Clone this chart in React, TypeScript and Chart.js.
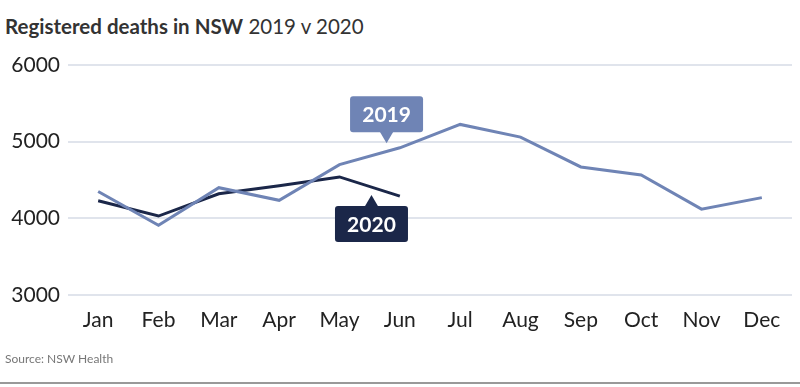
import React, { useEffect, useRef } from "react";
import { Chart, registerables } from "chart.js";

Chart.register(...registerables);

const months = ["Jan", "Feb", "Mar", "Apr", "May", "Jun", "Jul", "Aug", "Sep", "Oct", "Nov", "Dec"];
const deaths2019 = [4350, 3910, 4400, 4235, 4700, 4920, 5225, 5060, 4670, 4565, 4120, 4270];
const deaths2020 = [4230, 4030, 4320, 4425, 4540, 4290];
const yMin = 3000;
const yMax = 6000;
const yStep = 1000;

const color2019 = "#6f84b5";
const color2020 = "#1b2749";

// callouts anchored in data space: [label, category index, value, direction, colour]
const callouts: [string, number, number, "down" | "up", string][] = [
  ["2019", 4.78, 4980, "down", color2019],
  ["2020", 4.53, 4305, "up", color2020],
];

const calloutPlugin = {
  id: "callouts",
  afterDatasetsDraw(chart: any) {
    const ctx = chart.ctx;
    const xs = chart.scales.x;
    const ys = chart.scales.y;
    callouts.forEach(([label, idx, val, dir, col]) => {
      const tx = xs.getPixelForValue(idx);
      const ty = ys.getPixelForValue(val);
      const w = 73;
      const h = 36;
      const gap = 11;
      const bx = tx - w / 2;
      const by = dir === "down" ? ty - gap - h : ty + gap;
      ctx.save();
      ctx.fillStyle = col;
      ctx.beginPath();
      const r = 3;
      ctx.moveTo(bx + r, by);
      ctx.lineTo(bx + w - r, by);
      ctx.quadraticCurveTo(bx + w, by, bx + w, by + r);
      ctx.lineTo(bx + w, by + h - r);
      ctx.quadraticCurveTo(bx + w, by + h, bx + w - r, by + h);
      ctx.lineTo(bx + r, by + h);
      ctx.quadraticCurveTo(bx, by + h, bx, by + h - r);
      ctx.lineTo(bx, by + r);
      ctx.quadraticCurveTo(bx, by, bx + r, by);
      ctx.closePath();
      ctx.fill();
      ctx.beginPath();
      if (dir === "down") {
        ctx.moveTo(tx - 7, by + h - 1);
        ctx.lineTo(tx + 7, by + h - 1);
        ctx.lineTo(tx, ty);
      } else {
        ctx.moveTo(tx - 7, by + 1);
        ctx.lineTo(tx + 7, by + 1);
        ctx.lineTo(tx, ty);
      }
      ctx.closePath();
      ctx.fill();
      ctx.fillStyle = "#ffffff";
      ctx.font = "bold 21px Lato";
      ctx.textAlign = "center";
      ctx.textBaseline = "middle";
      ctx.fillText(label, tx, by + h / 2 + 1);
      ctx.restore();
    });
  },
};

export default function App() {
  const ref = useRef<HTMLCanvasElement>(null);

  useEffect(() => {
    document.body.style.margin = "0";
    const chart = new Chart(ref.current as HTMLCanvasElement, {
      type: "line",
      data: {
        labels: months,
        datasets: [
          {
            label: "2019",
            data: deaths2019,
            borderColor: color2019,
            borderWidth: 3,
            pointRadius: 0,
            tension: 0,
            fill: false,
          },
          {
            label: "2020",
            data: deaths2020,
            borderColor: color2020,
            borderWidth: 3,
            pointRadius: 0,
            tension: 0,
            fill: false,
          },
        ],
      },
      options: {
        animation: false,
        responsive: false,
        layout: { padding: { top: 65, right: 8, bottom: 52, left: 0 } },
        plugins: { legend: { display: false }, tooltip: { enabled: false } },
        scales: {
          x: {
            offset: true,
            grid: { display: false, drawTicks: false },
            border: { display: false },
            ticks: {
              color: "#222",
              font: { family: "Lato", size: 21 },
              padding: 13,
              maxRotation: 0,
            },
            afterFit: (s: any) => {
              s.height = 40;
            },
          },
          y: {
            min: yMin,
            max: yMax,
            grid: { color: "#e0e4ec", lineWidth: 2, drawTicks: false },
            border: { display: false },
            ticks: {
              stepSize: yStep,
              color: "#222",
              font: { family: "Lato", size: 21 },
              padding: 8,
              callback: (v: any) => String(v),
            },
            afterFit: (s: any) => {
              s.width = 68;
            },
          },
        },
      },
      plugins: [calloutPlugin],
    });
    return () => chart.destroy();
  }, []);

  return (
    <div style={{ position: "relative", width: 800, height: 387, background: "#fff", overflow: "hidden" }}>
      <div
        style={{
          position: "absolute",
          left: 5,
          top: 14,
          fontFamily: "Lato",
          fontSize: 20.5,
          color: "#333",
          whiteSpace: "nowrap",
          lineHeight: "24px",
        }}
      >
        <span style={{ fontWeight: 700 }}>Registered deaths in NSW</span> 2019 v 2020
      </div>
      <canvas ref={ref} width={800} height={387} style={{ position: "absolute", left: 0, top: 0 }} />
      <div
        style={{
          position: "absolute",
          left: 5,
          top: 351,
          fontFamily: "Lato",
          fontSize: 12,
          color: "#777",
          whiteSpace: "nowrap",
        }}
      >
        Source: NSW Health
      </div>
      <div style={{ position: "absolute", left: 0, top: 382, width: 800, height: 2, background: "#999" }} />
    </div>
  );
}
